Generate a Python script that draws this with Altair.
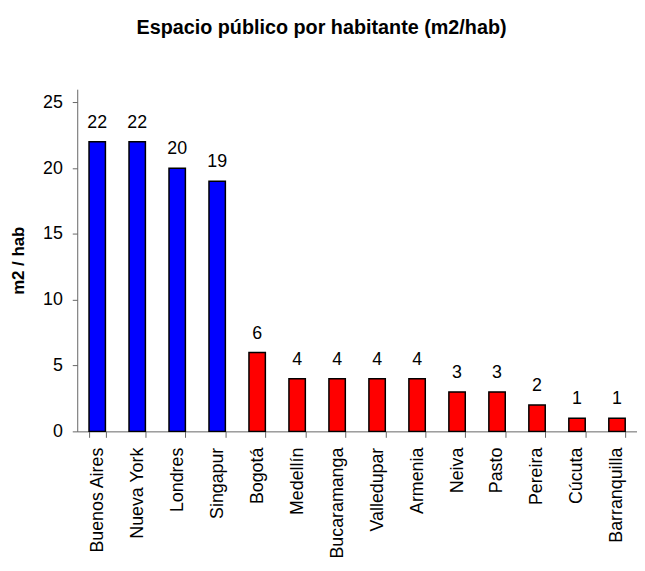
import altair as alt
import pandas as pd

cities = ["Buenos Aires", "Nueva York", "Londres", "Singapur", "Bogotá", "Medellín",
          "Bucaramanga", "Valledupar", "Armenia", "Neiva", "Pasto", "Pereira",
          "Cúcuta", "Barranquilla"]
values = [22, 22, 20, 19, 6, 4, 4, 4, 4, 3, 3, 2, 1, 1]
groups = ["Internacional"] * 4 + ["Colombia"] * 10

df = pd.DataFrame({"ciudad": cities, "valor": values, "grupo": groups})

FONT = "Liberation Sans"
AXIS_COLOR = "#666666"

x = alt.X("ciudad:N", sort=cities, title=None,
          scale=alt.Scale(paddingInner=0.59, paddingOuter=0.295),
          axis=alt.Axis(labelAngle=-90, labelFontSize=18, labelFont=FONT, labelColor="black",
                        labelPadding=10, labelBaseline="middle", labelAlign="right",
                        tickBand="extent", tickSize=6, tickColor=AXIS_COLOR,
                        domainColor=AXIS_COLOR, labelOverlap=False))
y = alt.Y("valor:Q", title="m2 / hab",
          scale=alt.Scale(domain=[0, 25]),
          axis=alt.Axis(values=[0, 5, 10, 15, 20, 25], grid=False, labelFontSize=18,
                        labelFont=FONT, labelColor="black", labelPadding=10, tickSize=5,
                        tickColor=AXIS_COLOR, domainColor=AXIS_COLOR,
                        titleFont=FONT, titleFontSize=17, titleFontWeight="bold",
                        titleColor="black", titlePadding=15))

bars = alt.Chart(df).mark_bar(stroke="black", strokeWidth=1.5).encode(
    x=x, y=y,
    color=alt.Color("grupo:N", scale=alt.Scale(domain=["Internacional", "Colombia"],
                                                range=["#0000FF", "#FF0000"]), legend=None),
)

labels = alt.Chart(df).mark_text(dy=-14, baseline="alphabetic", fontSize=18, font=FONT,
                                 color="black").encode(
    x=alt.X("ciudad:N", sort=cities), y="valor:Q", text="valor:Q"
)

chart = (bars + labels).properties(
    width=566, height=346,
    title=alt.TitleParams("Espacio público por habitante (m2/hab)", font=FONT, fontSize=20,
                          fontWeight="bold", color="black", anchor="middle", dx=-36,
                          baseline="alphabetic", offset=36),
    autosize=alt.AutoSizeParams(type="none"),
    padding={"left": 70, "top": 79, "right": 0, "bottom": 130},
).configure_view(stroke=None)

chart.save("out.html", embed_options={"renderer": "svg", "actions": False})
